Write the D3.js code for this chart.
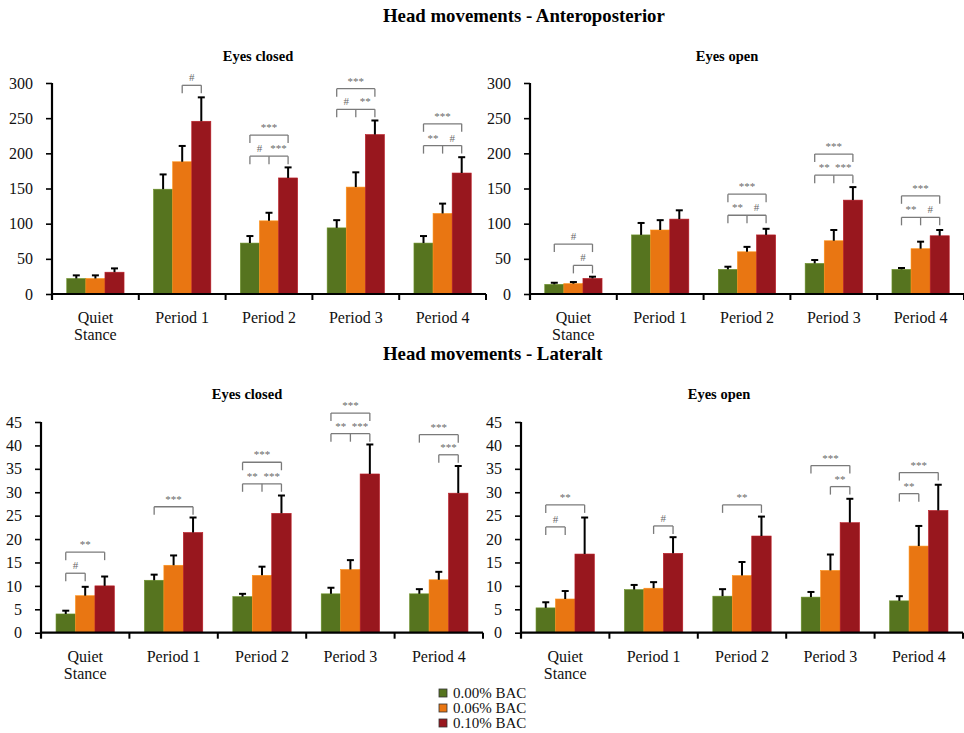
<!DOCTYPE html>
<html><head><meta charset="utf-8">
<script src="https://cdn.jsdelivr.net/npm/d3@7"></script>
<style>
body{margin:0;background:#fff;}
svg{display:block;}
svg text{font-family:"Liberation Serif","Times New Roman",serif !important;}
</style></head>
<body><svg id="c" width="964" height="733"></svg>
<script>
const categories = ["Quiet Stance","Period 1","Period 2","Period 3","Period 4"];
const seriesNames = ["0.00% BAC","0.06% BAC","0.10% BAC"];
const seriesColors = ["#56741F","#E97612","#98171E"];

// Anteroposterior - eyes closed (mean per series, SD per series)
const apClosedMean = [[22,149,72.4,94,72.4],[22,188,104,152,114.5],[31,245.6,165,226.7,172]];
const apClosedSD   = [[4.5,21,10,11,10],[4.5,22.5,11.5,21,14],[5.4,34,15,20,22.5]];
// Anteroposterior - eyes open
const apOpenMean = [[13.7,84,35,43.5,35],[14.7,91,60,75.7,64.4],[22.2,106.5,84,133.5,82.8]];
const apOpenSD   = [[2.3,17,3.8,4.8,2],[2.3,14,7,15.3,10],[2.4,12.5,8.7,18.5,8.2]];
// Lateral - eyes closed
const latClosedMean = [[4.0,11.2,7.7,8.3,8.3],[7.9,14.4,12.25,13.5,11.3],[10.0,21.4,25.5,33.9,29.8]];
const latClosedSD   = [[0.7,1.2,0.6,1.3,1.0],[1.9,2.1,1.85,2.0,1.7],[2.0,3.2,3.8,6.3,5.8]];
// Lateral - eyes open
const latOpenMean = [[5.3,9.2,7.8,7.6,6.8],[7.2,9.5,12.2,13.3,18.5],[16.8,16.95,20.65,23.5,26.1]];
const latOpenSD   = [[1.2,1.0,1.5,1.1,1.0],[1.7,1.3,2.9,3.4,4.3],[7.8,3.45,4.15,5.1,5.5]];

const apTicks = [0,50,100,150,200,250,300];
const latTicks = [0,5,10,15,20,25,30,35,40,45];

// significance brackets: [category, series legs, level (data units), labels]
const apClosedSig = [
 [1,[1,2],296.7,["#"]],
 [2,[0,1,2],196,["#","***"]],
 [2,[0,2],226,["***"]],
 [3,[0,1,2],262.6,["#","**"]],
 [3,[0,2],292,["***"]],
 [4,[0,1,2],211,["**","#"]],
 [4,[0,2],242,["***"]]
];
const apOpenSig = [
 [0,[1,2],40.7,["#"]],
 [0,[0,2],71,["#"]],
 [2,[0,1,2],112,["**","#"]],
 [2,[0,2],142,["***"]],
 [3,[0,1,2],169,["**","***"]],
 [3,[0,2],199,["***"]],
 [4,[0,1,2],109,["**","#"]],
 [4,[0,2],139.6,["***"]]
];
const latClosedSig = [
 [0,[0,1],12.7,["#"]],
 [0,[0,2],17.2,["**"]],
 [1,[0,2],26.9,["***"]],
 [2,[0,1,2],31.8,["**","***"]],
 [2,[0,2],36.4,["***"]],
 [3,[0,1,2],42.5,["**","***"]],
 [3,[0,2],46.9,["***"]],
 [4,[1,2],38,["***"]],
 [4,[0,2],42.3,["***"]]
];
const latOpenSig = [
 [0,[0,1],22.6,["#"]],
 [0,[0,2],27.3,["**"]],
 [1,[1,2],22.8,["#"]],
 [2,[0,2],27.3,["**"]],
 [3,[1,2],31.2,["**"]],
 [3,[0,2],35.7,["***"]],
 [4,[0,1],29.7,["**"]],
 [4,[0,2],34.2,["***"]]
];

const svg = d3.select("#c");

svg.append("text").attr("x",383).attr("y",22).attr("font-size",18.8).attr("font-weight","bold")
  .text("Head movements - Anteroposterior");
svg.append("text").attr("x",383).attr("y",360).attr("font-size",18.8).attr("font-weight","bold")
  .text("Head movements - Lateralt");

const panels = [
  {title:"Eyes closed", tx:258, ty:61, x0:52, x1:486, yb:294, yt:83, max:300, ticks:apTicks, mean:apClosedMean, sd:apClosedSD, sig:apClosedSig},
  {title:"Eyes open", tx:727, ty:61, x0:530, x1:964, yb:294, yt:83, max:300, ticks:apTicks, mean:apOpenMean, sd:apOpenSD, sig:apOpenSig},
  {title:"Eyes closed", tx:247, ty:399, x0:41, x1:483, yb:632.7, yt:422, max:45, ticks:latTicks, mean:latClosedMean, sd:latClosedSD, sig:latClosedSig},
  {title:"Eyes open", tx:719, ty:399, x0:521, x1:963, yb:632.7, yt:422, max:45, ticks:latTicks, mean:latOpenMean, sd:latOpenSD, sig:latOpenSig}
];

panels.forEach(p => {
  const g = svg.append("g");
  const x = d3.scaleBand().domain(categories).range([p.x0, p.x1]).padding(0);
  const bw = x.bandwidth();
  const xs = d3.scaleBand().domain([0,1,2]).range([bw*0.17, bw*0.83]).padding(0);
  const y = d3.scaleLinear().domain([0,p.max]).range([p.yb, p.yt]);

  g.append("text").attr("x",p.tx).attr("y",p.ty).attr("text-anchor","middle")
    .attr("font-size",14.5).attr("font-weight","bold").text(p.title);

  // bars
  seriesNames.forEach((s,si) => {
    g.selectAll(null).data(categories).enter().append("rect")
      .attr("x", (c) => x(c) + xs(si))
      .attr("width", xs.bandwidth())
      .attr("y", (c,ci) => y(p.mean[si][ci]))
      .attr("height", (c,ci) => p.yb - y(p.mean[si][ci]))
      .attr("fill", seriesColors[si])
      .attr("stroke", d3.color(seriesColors[si]).brighter(0.6))
      .attr("stroke-width", 0.6);
  });
  // error bars
  seriesNames.forEach((s,si) => {
    categories.forEach((c,ci) => {
      const cx = x(c) + xs(si) + xs.bandwidth()/2;
      const top = y(p.mean[si][ci] + p.sd[si][ci]);
      g.append("line").attr("x1",cx).attr("x2",cx).attr("y1",y(p.mean[si][ci])).attr("y2",top)
        .attr("stroke","#000").attr("stroke-width",2);
      g.append("line").attr("x1",cx-3.5).attr("x2",cx+3.5).attr("y1",top).attr("y2",top)
        .attr("stroke","#000").attr("stroke-width",2);
    });
  });

  // y axis
  const ya = d3.axisLeft(y).tickValues(p.ticks).tickSize(6).tickPadding(13).tickSizeOuter(0);
  const yg = g.append("g").attr("transform",`translate(${p.x0},0)`).call(ya);
  yg.attr("font-family", null).attr("font-size", null);
  yg.select(".domain").attr("stroke-width",2.2).attr("d",`M0,${p.yb+6}V${p.yt}`);
  yg.selectAll(".tick line").attr("stroke-width",1.6);
  yg.selectAll("text").attr("font-size",16).attr("fill","#111");

  // x axis line
  g.append("line").attr("x1",p.x0).attr("x2",p.x1).attr("y1",p.yb).attr("y2",p.yb)
    .attr("stroke","#000").attr("stroke-width",2.2);
  categories.forEach((c,ci) => {
    if (ci>0) g.append("line").attr("x1",x(c)).attr("x2",x(c)).attr("y1",p.yb).attr("y2",p.yb+6)
      .attr("stroke","#000").attr("stroke-width",2);
    const t = g.append("text").attr("x",x(c)+bw/2).attr("y",p.yb+29).attr("text-anchor","middle")
      .attr("font-size",16).attr("fill","#111");
    const parts = c.split(" ");
    if (c === "Quiet Stance") {
      t.append("tspan").attr("x",x(c)+bw/2).text(parts[0]);
      t.append("tspan").attr("x",x(c)+bw/2).attr("dy",17).text(parts[1]);
    } else t.text(c);
  });
  g.append("line").attr("x1",p.x1).attr("x2",p.x1).attr("y1",p.yb).attr("y2",p.yb+6)
    .attr("stroke","#000").attr("stroke-width",2);

  // significance brackets
  p.sig.forEach(([ci, legs, lvl, labels]) => {
    const c = categories[ci];
    const ly = y(lvl);
    const xsL = legs.map(si => x(c) + xs(si) + xs.bandwidth()/2);
    g.append("line").attr("x1",xsL[0]).attr("x2",xsL[xsL.length-1]).attr("y1",ly).attr("y2",ly)
      .attr("stroke","#7a7a7a").attr("stroke-width",1.3);
    xsL.forEach(lx => g.append("line").attr("x1",lx).attr("x2",lx).attr("y1",ly).attr("y2",ly+8)
      .attr("stroke","#7a7a7a").attr("stroke-width",1.3));
    labels.forEach((lab,li) => {
      const mx = labels.length === 1 ? (xsL[0]+xsL[xsL.length-1])/2 : (xsL[li]+xsL[li+1])/2;
      g.append("text").attr("x",mx).attr("y",ly-4).attr("text-anchor","middle")
        .attr("font-size",11).attr("fill","#6a6a6a").text(lab);
    });
  });
});

// legend
const lg = svg.append("g");
seriesNames.forEach((s,i) => {
  const yy = 693 + i*15;
  lg.append("rect").attr("x",439).attr("y",yy-4).attr("width",8).attr("height",8)
    .attr("fill",seriesColors[i]).attr("stroke","#333").attr("stroke-width",0.8);
  lg.append("text").attr("x",453).attr("y",yy+5).attr("font-size",15).attr("fill","#111").text(s);
});
</script></body></html>
